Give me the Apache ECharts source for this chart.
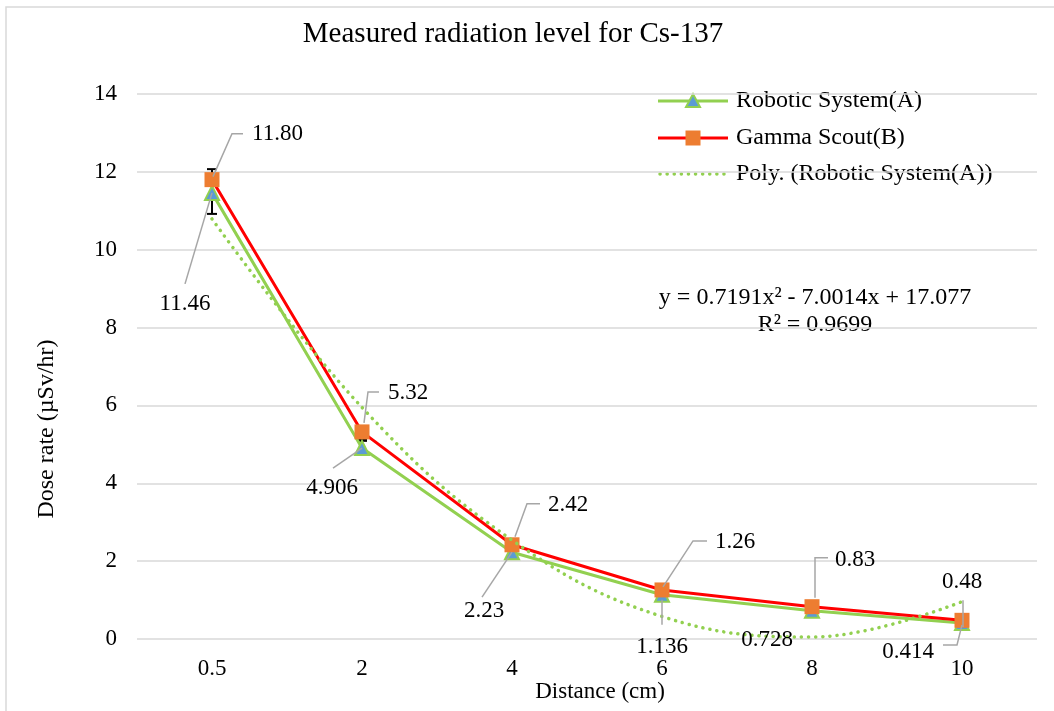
<!DOCTYPE html>
<html>
<head>
<meta charset="utf-8">
<script src="https://cdn.jsdelivr.net/npm/echarts@6/dist/echarts.min.js"></script>
<style>
html,body{margin:0;padding:0;background:#fff;}
#chart{width:1054px;height:711px;}
</style>
</head>
<body>
<div id="chart"></div>
<script>
// ---- data ----
var categories = ['0.5', '2', '4', '6', '8', '10'];
var roboticA = [11.46, 4.906, 2.23, 1.136, 0.728, 0.414];
var gammaB = [11.80, 5.32, 2.42, 1.26, 0.83, 0.48];
var polyTrendA = [10.79, 5.95, 2.54, 0.58, 0.05, 0.96];
var labelsA = ['11.46', '4.906', '2.23', '1.136', '0.728', '0.414'];
var labelsB = ['11.80', '5.32', '2.42', '1.26', '0.83', '0.48'];
var errorBars = [[0, 10.92, 12.07], [1, 5.09, 5.13]]; // [category index, low, high]
var yTicks = {min: 0, max: 14, interval: 2};
var seriesNames = ['Robotic System(A)', 'Gamma Scout(B)', 'Poly. (Robotic System(A))'];
var equationText = 'y = 0.7191x\u00B2 - 7.0014x + 17.077';
var r2Text = 'R\u00B2 = 0.9699';

// ---- label placement (layout only, pixel offsets from the data point) ----
var layoutB = [
  {line: [[1,-3],[20,-46],[31,-46]], text: [40,-46], align: 'left'},
  {line: [[2,-9],[6,-40],[17,-40]], text: [26,-39], align: 'left'},
  {line: [[3,-8],[15,-41],[28,-41]], text: [36,-40], align: 'left'},
  {line: [[1,-3],[31,-49],[45,-49]], text: [53,-48], align: 'left'},
  {line: [[3,-9],[3,-49],[16,-49]], text: [23,-47], align: 'left'},
  {line: [[1,7],[1,-20]], text: [0,-38], align: 'center'}
];
var layoutA = [
  {line: [[0,0],[-27,91]], text: [-27,111], align: 'center'},
  {line: [[0,0],[-29,20]], text: [-30,40], align: 'center'},
  {line: [[0,0],[-30,45]], text: [-28,59], align: 'center'},
  {line: [[0,5],[0,30]], text: [0,52], align: 'center'},
  {line: null, text: [-45,29], align: 'center'},
  {line: [[0,2],[-5,22],[-19,22]], text: [-54,29], align: 'center'}
];

var FONT = '"Liberation Serif", "Times New Roman", serif';
var GREEN = '#92d050', RED = '#ff0000', ORANGE = '#ed7d31', BLUE = '#5b9bd5';
var GRID = '#d9d9d9', LEADER = '#a6a6a6';
var TREND_DASH = [0.1, 7];

function labelSeries(values, texts, layout, z) {
  return {
    type: 'custom',
    z: z,
    silent: true,
    data: values.map(function (v, i) { return [i, v]; }),
    renderItem: function (params, api) {
      var i = params.dataIndex;
      var p = api.coord([api.value(0), api.value(1)]);
      var L = layout[i];
      var children = [];
      if (L.line) {
        children.push({
          type: 'polyline',
          shape: {points: L.line.map(function (d) { return [p[0] + d[0], p[1] + d[1]]; })},
          style: {stroke: LEADER, lineWidth: 1.5, fill: null}
        });
      }
      children.push({
        type: 'text',
        x: p[0] + L.text[0], y: p[1] + L.text[1],
        style: {text: texts[i], fill: '#000', font: '23px ' + FONT,
                align: L.align, verticalAlign: 'middle'}
      });
      return {type: 'group', children: children};
    }
  };
}

// custom legend (line + marker + text), drawn with graphic elements
function legendGraphics() {
  var x0 = 658, x1 = 728, xm = 693, tx = 736;
  var ys = [101, 138, 174];
  var g = [];
  // A
  g.push({type: 'line', shape: {x1: x0, y1: ys[0], x2: x1, y2: ys[0]}, style: {stroke: GREEN, lineWidth: 3}});
  g.push({type: 'polygon', shape: {points: [[xm, ys[0] - 7], [xm + 7, ys[0] + 6], [xm - 7, ys[0] + 6]]},
          style: {fill: BLUE, stroke: GREEN, lineWidth: 2}});
  g.push({type: 'text', x: tx, y: ys[0], style: {text: seriesNames[0], font: '24px ' + FONT, fill: '#000', verticalAlign: 'middle'}});
  // B
  g.push({type: 'line', shape: {x1: x0, y1: ys[1], x2: x1, y2: ys[1]}, style: {stroke: RED, lineWidth: 3}});
  g.push({type: 'rect', shape: {x: xm - 7.5, y: ys[1] - 7.5, width: 15, height: 15}, style: {fill: ORANGE}});
  g.push({type: 'text', x: tx, y: ys[1], style: {text: seriesNames[1], font: '24px ' + FONT, fill: '#000', verticalAlign: 'middle'}});
  // trend
  g.push({type: 'line', shape: {x1: x0 + 2, y1: ys[2], x2: x1, y2: ys[2]},
          style: {stroke: GREEN, lineWidth: 3.5, lineDash: TREND_DASH, lineCap: 'round'}});
  g.push({type: 'text', x: tx, y: ys[2], style: {text: seriesNames[2], font: '24px ' + FONT, fill: '#000', verticalAlign: 'middle'}});
  return g;
}

var chart = echarts.init(document.getElementById('chart'), null, {renderer: 'canvas'});
var option = {
  backgroundColor: '#fff',
  animation: false,
  title: {
    text: 'Measured radiation level for Cs-137',
    left: 508, top: 15, textAlign: 'center',
    textStyle: {fontFamily: FONT, fontSize: 29, fontWeight: 'normal', color: '#000'}
  },
  grid: {left: 137, right: 17, top: 94, bottom: 72, containLabel: false},
  xAxis: {
    type: 'category',
    data: categories,
    boundaryGap: true,
    axisLine: {show: false},
    axisTick: {show: false},
    axisLabel: {fontFamily: FONT, fontSize: 23, color: '#000', margin: 18}
  },
  yAxis: {
    type: 'value',
    min: yTicks.min, max: yTicks.max, interval: yTicks.interval,
    axisLine: {show: false},
    axisTick: {show: false},
    axisLabel: {fontFamily: FONT, fontSize: 23, color: '#000', margin: 20},
    splitLine: {lineStyle: {color: GRID, width: 1.5}}
  },
  graphic: [
    {type: 'rect', shape: {x: 6, y: 7, width: 1100, height: 760},
     style: {fill: null, stroke: GRID, lineWidth: 1.5}, silent: true, z: -10},
    {type: 'text', x: 600, y: 692,
     style: {text: 'Distance (cm)', font: '23px ' + FONT, fill: '#000', align: 'center', verticalAlign: 'middle'}},
    {type: 'text', x: 47, y: 429, rotation: Math.PI / 2,
     style: {text: 'Dose rate (\u00B5Sv/hr)', font: '24px ' + FONT, fill: '#000', align: 'center', verticalAlign: 'middle'}},
    {type: 'text', x: 815, y: 298,
     style: {text: equationText, font: '24px ' + FONT, fill: '#000', align: 'center', verticalAlign: 'middle'}},
    {type: 'text', x: 815, y: 325,
     style: {text: r2Text, font: '24px ' + FONT, fill: '#000', align: 'center', verticalAlign: 'middle'}}
  ].concat(legendGraphics()),
  series: [
    {
      type: 'custom',
      name: 'errorbars',
      z: 1,
      silent: true,
      data: errorBars,
      renderItem: function (params, api) {
        var lo = api.coord([api.value(0), api.value(1)]);
        var hi = api.coord([api.value(0), api.value(2)]);
        var w = 5;
        var st = {stroke: '#000', lineWidth: 2};
        return {type: 'group', children: [
          {type: 'line', shape: {x1: lo[0], y1: lo[1], x2: hi[0], y2: hi[1]}, style: st},
          {type: 'line', shape: {x1: lo[0] - w, y1: lo[1], x2: lo[0] + w, y2: lo[1]}, style: st},
          {type: 'line', shape: {x1: hi[0] - w, y1: hi[1], x2: hi[0] + w, y2: hi[1]}, style: st}
        ]};
      }
    },
    {
      name: seriesNames[0], type: 'line', data: roboticA, z: 2,
      symbol: 'triangle', symbolSize: 14,
      lineStyle: {color: GREEN, width: 3},
      itemStyle: {color: BLUE, borderColor: GREEN, borderWidth: 2},
      color: GREEN
    },
    {
      name: seriesNames[1], type: 'line', data: gammaB, z: 3,
      symbol: 'rect', symbolSize: 15,
      lineStyle: {color: RED, width: 3},
      itemStyle: {color: ORANGE, borderColor: ORANGE, borderWidth: 0},
      color: RED
    },
    {
      name: seriesNames[2], type: 'line', data: polyTrendA, z: 4,
      symbol: 'none', smooth: 0.4,
      lineStyle: {color: GREEN, width: 3.5, type: TREND_DASH, cap: 'round'},
      itemStyle: {color: GREEN},
      color: GREEN
    },
    labelSeries(gammaB, labelsB, layoutB, 5),
    labelSeries(roboticA, labelsA, layoutA, 5)
  ]
};
chart.setOption(option);
</script>
</body>
</html>
